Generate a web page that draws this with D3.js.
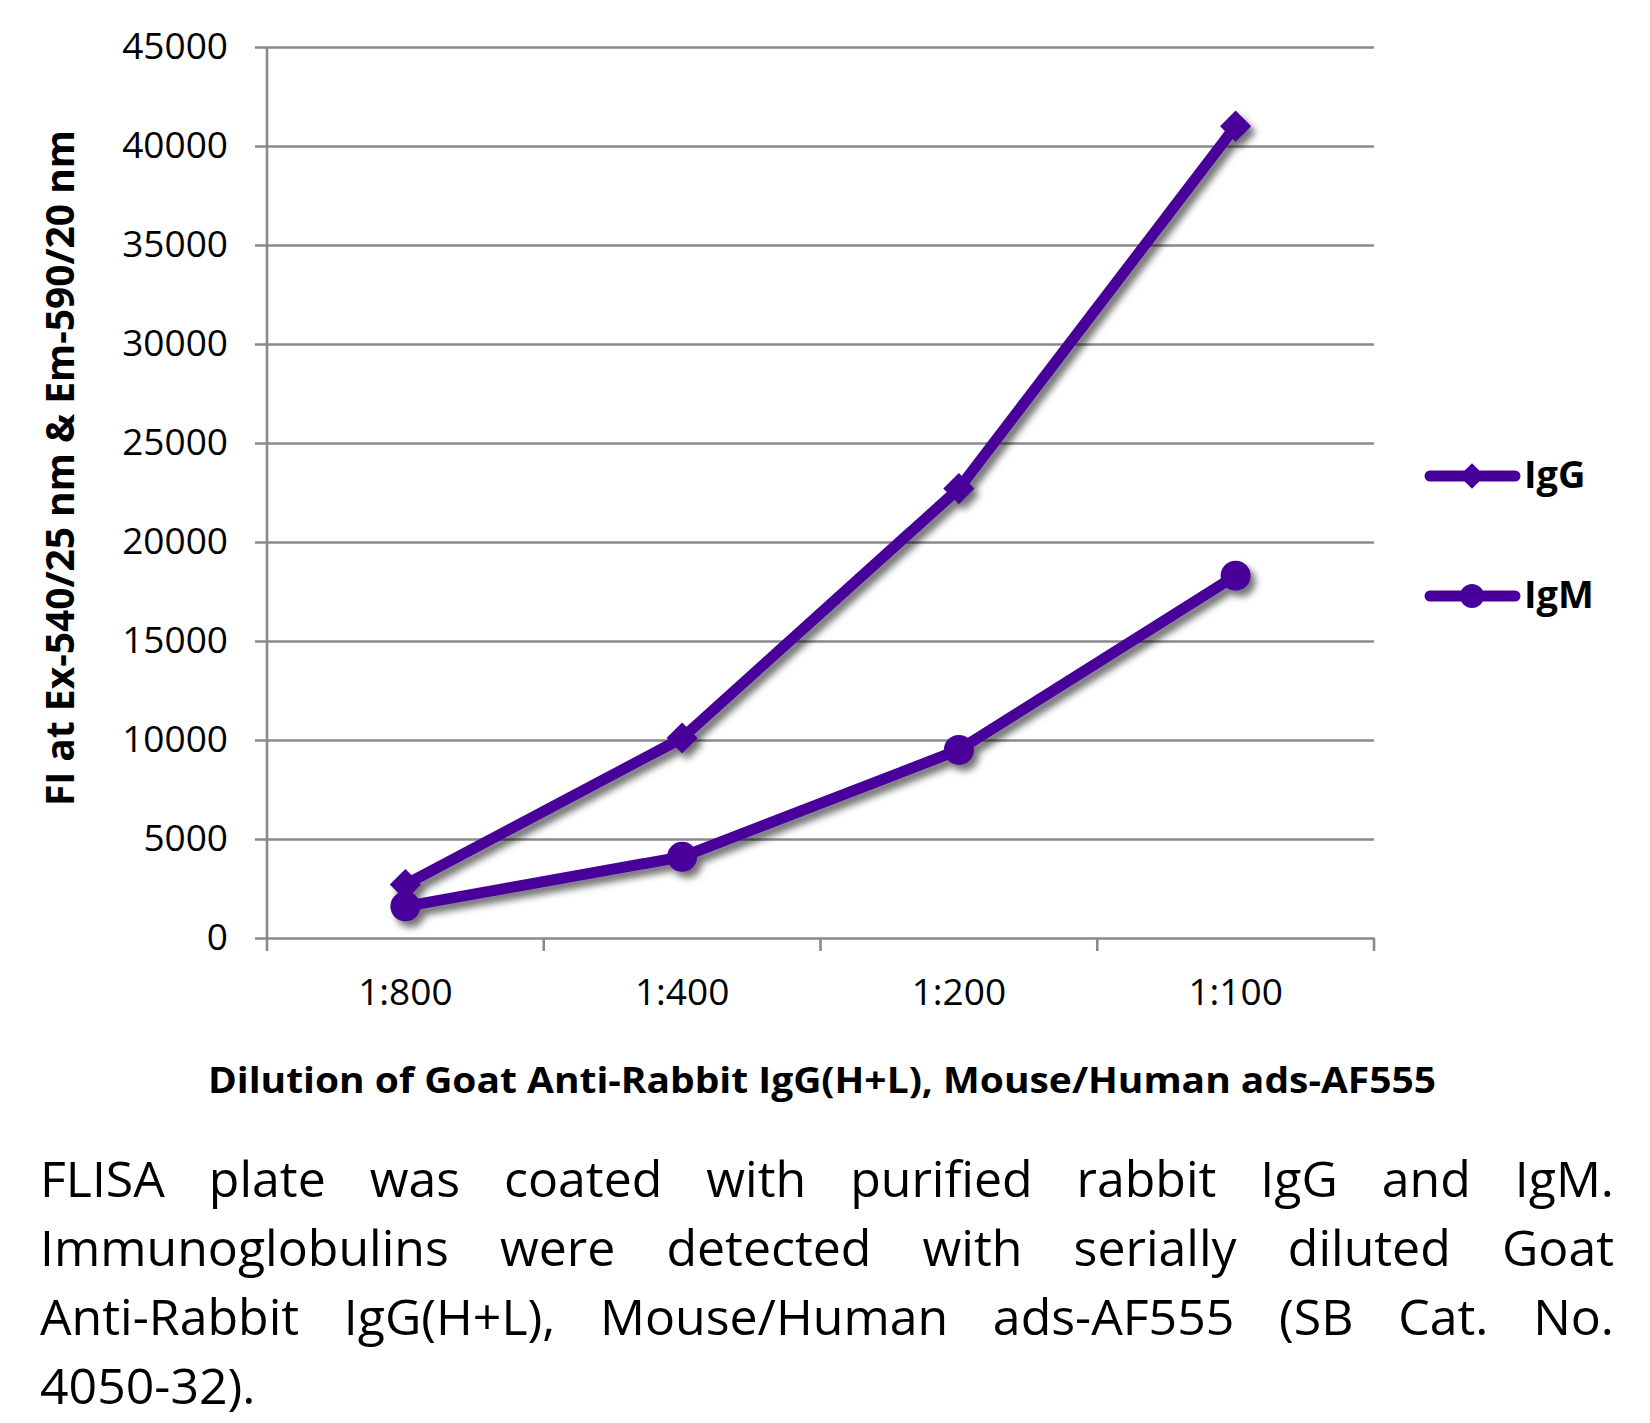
<!DOCTYPE html>
<html>
<head>
<meta charset="utf-8">
<script src="https://cdn.jsdelivr.net/npm/d3@7"></script>
<style>
  body { margin: 0; background: #fff; }
  svg { display: block; }
</style>
</head>
<body>
<div id="chart"></div>
<script>
"use strict";
const categories = ["1:800", "1:400", "1:200", "1:100"];
const iggValues = [2700, 10100, 22700, 41000];
const igmValues = [1600, 4100, 9500, 18300];
const yTicks = [0, 5000, 10000, 15000, 20000, 25000, 30000, 35000, 40000, 45000];
const seriesNames = ["IgG", "IgM"];
const captionText = "FLISA plate was coated with purified rabbit IgG and IgM. Immunoglobulins were detected with serially diluted Goat Anti-Rabbit IgG(H+L), Mouse/Human ads-AF555 (SB Cat. No. 4050-32).";

const W = 1650, H = 1423;
const plotLeft = 267, plotRight = 1374, plotTop = 47, plotBottom = 938;
const purple = "#48009a";
const grid = "#8a8a8a";
const font = "'Open Sans', 'Noto Sans', sans-serif";

const svg = d3.select("#chart").append("svg")
    .attr("width", W)
    .attr("height", H);

const defs = svg.append("defs");
const filt = defs.append("filter").attr("id", "shadow")
    .attr("x", "-20%").attr("y", "-20%").attr("width", "140%").attr("height", "140%");
filt.append("feDropShadow")
    .attr("dx", 5).attr("dy", 6).attr("stdDeviation", 3.5)
    .attr("flood-color", "#000").attr("flood-opacity", 0.55);

const x = d3.scaleBand().domain(categories).range([plotLeft, plotRight]).padding(0);
const y = d3.scaleLinear().domain([0, 45000]).range([plotBottom, plotTop]);

// y axis with gridlines
const yAxis = svg.append("g")
    .attr("transform", `translate(${plotLeft - 12},0)`)
    .call(d3.axisLeft(y).tickValues(yTicks).tickSize(-(plotRight - plotLeft + 12)).tickPadding(27).tickFormat(d3.format("d")));
yAxis.select(".domain").remove();
yAxis.selectAll(".tick line").attr("stroke", grid).attr("stroke-width", 2.6);
yAxis.selectAll(".tick text")
    .attr("font-family", font).attr("font-size", 37).attr("fill", "#000");

// vertical axis line
svg.append("line")
    .attr("x1", plotLeft).attr("x2", plotLeft)
    .attr("y1", y(45000)).attr("y2", plotBottom + 13)
    .attr("stroke", grid).attr("stroke-width", 2.6);

// x category boundary ticks
const edges = categories.map(c => x(c)).slice(1).concat([plotRight]);
svg.selectAll(".xedge").data(edges).enter().append("line")
    .attr("x1", d => d).attr("x2", d => d)
    .attr("y1", plotBottom).attr("y2", plotBottom + 13)
    .attr("stroke", grid).attr("stroke-width", 2.6);

// x labels
const xAxis = svg.append("g")
    .attr("transform", `translate(0,${plotBottom})`)
    .call(d3.axisBottom(x).tickSize(0).tickPadding(0));
xAxis.select(".domain").remove();
xAxis.selectAll(".tick text")
    .attr("font-family", font).attr("font-size", 37).attr("fill", "#000")
    .attr("dy", null).attr("y", 67);

const cx = d => x(d) + x.bandwidth() / 2;
const line = d3.line().x((d, i) => cx(categories[i])).y(d => y(d));

const plot = svg.append("g").attr("filter", "url(#shadow)");
const diamond = d3.symbol().type(d3.symbolDiamond2).size(620);

function drawSeries(values, marker) {
    const g = plot.append("g");
    g.append("path").datum(values)
        .attr("d", line)
        .attr("fill", "none")
        .attr("stroke", purple)
        .attr("stroke-width", 11)
        .attr("stroke-linejoin", "round");
    if (marker === "diamond") {
        g.selectAll("path.m").data(values).enter().append("path")
            .attr("class", "m")
            .attr("d", diamond)
            .attr("transform", (d, i) => `translate(${cx(categories[i])},${y(d)})`)
            .attr("fill", purple);
    } else {
        g.selectAll("circle").data(values).enter().append("circle")
            .attr("cx", (d, i) => cx(categories[i]))
            .attr("cy", d => y(d))
            .attr("r", 15)
            .attr("fill", purple);
    }
}
drawSeries(iggValues, "diamond");
drawSeries(igmValues, "circle");

// legend
const legendY = [476, 596];
const leg = svg.append("g");
seriesNames.forEach((name, i) => {
    const ly = legendY[i];
    leg.append("line")
        .attr("x1", 1430).attr("x2", 1515)
        .attr("y1", ly).attr("y2", ly)
        .attr("stroke", purple).attr("stroke-width", 11).attr("stroke-linecap", "round");
    if (i === 0) {
        leg.append("path")
            .attr("d", d3.symbol().type(d3.symbolDiamond2).size(420))
            .attr("transform", `translate(1472,${ly})`)
            .attr("fill", purple);
    } else {
        leg.append("circle").attr("cx", 1472).attr("cy", ly).attr("r", 12).attr("fill", purple);
    }
    leg.append("text")
        .attr("x", 1524).attr("y", ly + 12)
        .attr("font-family", font).attr("font-weight", "bold").attr("font-size", 38)
        .text(name);
});

// axis titles
svg.append("text")
    .attr("transform", "translate(74,468) rotate(-90)")
    .attr("text-anchor", "middle")
    .attr("font-family", font).attr("font-weight", "bold").attr("font-size", 40)
    .attr("textLength", 676).attr("lengthAdjust", "spacingAndGlyphs")
    .text("FI at Ex-540/25 nm & Em-590/20 nm");

svg.append("text")
    .attr("x", 822).attr("y", 1093)
    .attr("text-anchor", "middle")
    .attr("font-family", font).attr("font-weight", "bold").attr("font-size", 36)
    .attr("textLength", 1228).attr("lengthAdjust", "spacingAndGlyphs")
    .text("Dilution of Goat Anti-Rabbit IgG(H+L), Mouse/Human ads-AF555");

// justified caption
const capLeft = 40, capRight = 1614, capTop = 1197, capStep = 69, capSize = 50;
const words = captionText.split(" ");
const cap = svg.append("g")
    .attr("font-family", font).attr("font-size", capSize).attr("fill", "#000");
const probe = cap.append("text");
const widthOf = w => { probe.text(w); return probe.node().getComputedTextLength(); };
const spaceW = widthOf("a b") - widthOf("ab");
const lines = [];
let cur = [], curW = 0;
words.forEach(w => {
    const ww = widthOf(w);
    const need = cur.length ? curW + spaceW * cur.length + ww : ww;
    if (cur.length && need > capRight - capLeft) {
        lines.push(cur);
        cur = []; curW = 0;
    }
    cur.push({ w, ww });
    curW += ww;
});
if (cur.length) lines.push(cur);
probe.remove();
lines.forEach((ln, li) => {
    const total = d3.sum(ln, d => d.ww);
    const last = li === lines.length - 1;
    const gap = (!last && ln.length > 1) ? (capRight - capLeft - total) / (ln.length - 1) : spaceW;
    let px = capLeft;
    ln.forEach(d => {
        cap.append("text").attr("x", px).attr("y", capTop + li * capStep).text(d.w);
        px += d.ww + gap;
    });
});
</script>
</body>
</html>
